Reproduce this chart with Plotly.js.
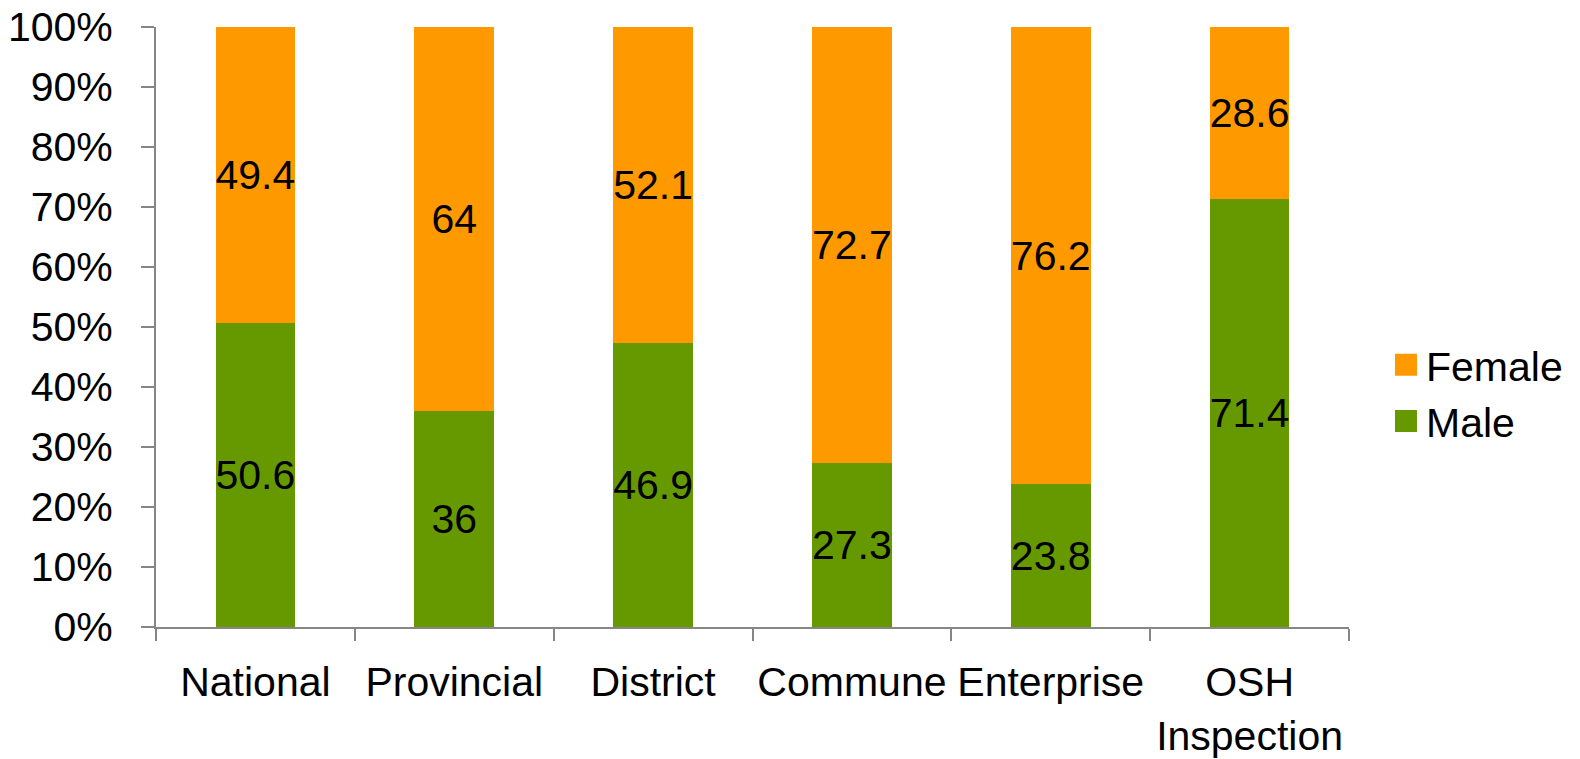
<!DOCTYPE html>
<html>
<head>
<meta charset="utf-8">
<script src="https://cdn.plot.ly/plotly-3.0.1.min.js"></script>
<style>html,body{margin:0;padding:0;background:#fff;}#chart{width:1580px;height:759px;}</style>
</head>
<body>
<div id="chart"></div>
<script>
const categories = ["National", "Provincial", "District", "Commune", "Enterprise", "OSH<br>Inspection"];
const maleValues = [50.6, 36, 46.9, 27.3, 23.8, 71.4];
const femaleValues = [49.4, 64, 52.1, 72.7, 76.2, 28.6];
const yTickValues = [0, 10, 20, 30, 40, 50, 60, 70, 80, 90, 100];
const yTickLabels = ["0%", "10%", "20%", "30%", "40%", "50%", "60%", "70%", "80%", "90%", "100%"];

const FONT = "Liberation Sans, Arial, sans-serif";
const common = {
  type: "bar",
  x: categories,
  textposition: "inside",
  insidetextanchor: "middle",
  constraintext: "none",
  textangle: 0,
  textfont: {family: FONT, size: 41, color: "#000"},
  hoverinfo: "skip"
};
const data = [
  Object.assign({}, common, {name: "Male", y: maleValues, text: maleValues.map(String), marker: {color: "#669900"}}),
  Object.assign({}, common, {name: "Female", y: femaleValues, text: femaleValues.map(String), marker: {color: "#FF9900"}})
];
const layout = {
  width: 1580, height: 759,
  margin: {l: 156, r: 228, t: 27, b: 132},
  barmode: "stack",
  barnorm: "percent",
  bargap: 0.6,
  paper_bgcolor: "#fff", plot_bgcolor: "#fff",
  font: {family: FONT, size: 41, color: "#000"},
  showlegend: true,
  legend: {x: 1.031, y: 0.39, yanchor: "middle", xanchor: "left", font: {family: FONT, size: 41, color: "#000"}, traceorder: "reversed", itemwidth: 30},
  xaxis: {
    type: "category",
    tickson: "boundaries",
    tickangle: 0,
    ticks: "outside", ticklen: 12, tickcolor: "#868686", tickwidth: 2,
    showline: true, linecolor: "#868686", linewidth: 2,
    showgrid: false, zeroline: false,
    tickfont: {family: FONT, size: 41, color: "#000"},
    ticklabelstandoff: 18
  },
  yaxis: {
    range: [0, 100],
    tickvals: yTickValues, ticktext: yTickLabels,
    ticks: "outside", ticklen: 13, tickcolor: "#868686", tickwidth: 2,
    showline: true, linecolor: "#868686", linewidth: 2,
    showgrid: false, zeroline: false,
    tickfont: {family: FONT, size: 41, color: "#000"},
    ticklabelstandoff: 20
  }
};
Plotly.newPlot("chart", data, layout, {displayModeBar: false, staticPlot: true}).then(function (gd) {
  gd.querySelectorAll(".legend .legendpoints path").forEach(function (p) {
    p.setAttribute("d", "M11,11H-11V-11H11Z");
  });
});
</script>
</body>
</html>
